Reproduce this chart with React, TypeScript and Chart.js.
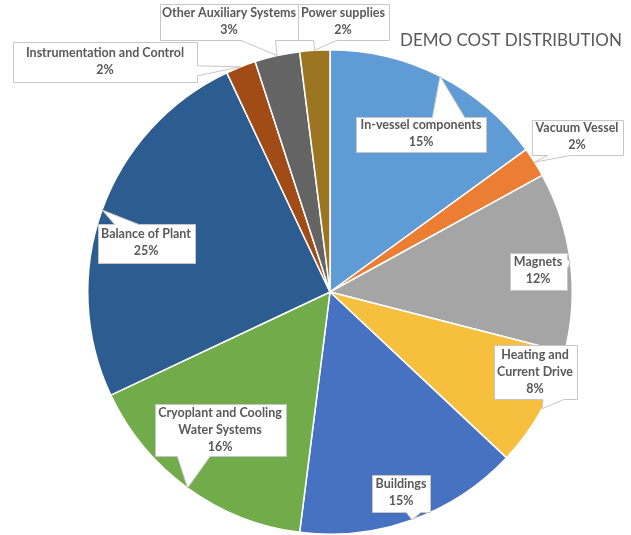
import React, { useEffect, useRef } from "react";
import { Chart, registerables } from "chart.js";

Chart.register(...registerables);

// ---- data ----
const categories: string[][] = [
  ["In-vessel components"],
  ["Vacuum Vessel"],
  ["Magnets"],
  ["Heating and", "Current Drive"],
  ["Buildings"],
  ["Cryoplant and Cooling", "Water Systems"],
  ["Balance of Plant"],
  ["Instrumentation and Control"],
  ["Other Auxiliary Systems"],
  ["Power supplies"],
];
const shares: number[] = [15, 2, 12, 8, 15, 16, 25, 2, 3, 2];
const sliceColors: string[] = [
  "#5F9BD5",
  "#EC7E34",
  "#A5A5A5",
  "#F7BF3E",
  "#4772C2",
  "#71AB4A",
  "#2C5C90",
  "#A14C17",
  "#646464",
  "#9C7522",
];
const titleText = "DEMO COST DISTRIBUTION";

// ---- callout layout: box centre offset from pie centre, box size (px) ----
const calloutLayout = [
  { dx: 91, dy: -158, w: 130, h: 35 },
  { dx: 247, dy: -155, w: 91, h: 35 },
  { dx: 208, dy: -21, w: 57, h: 37 },
  { dx: 205, dy: 80, w: 83, h: 54 },
  { dx: 71, dy: 201, w: 58, h: 37 },
  { dx: -110, dy: 138, w: 131, h: 52 },
  { dx: -184, dy: -49, w: 97, h: 39 },
  { dx: -225, dy: -230, w: 184, h: 40 },
  { dx: -101, dy: -270, w: 138, h: 36 },
  { dx: 13, dy: -270, w: 91, h: 36 },
];

const LABEL_FONT = "bold 12.5px Lato, 'Open Sans', sans-serif";
const TEXT_COLOR = "#595959";

const calloutPlugin = {
  id: "callouts",
  afterDatasetsDraw(chart: any) {
    const ctx: CanvasRenderingContext2D = chart.ctx;
    const meta = chart.getDatasetMeta(0);
    const values = chart.data.datasets[0].data as number[];
    ctx.save();
    meta.data.forEach((el: any, i: number) => {
      const p = el.getProps(["x", "y", "startAngle", "endAngle", "outerRadius"], true);
      const mid = (p.startAngle + p.endAngle) / 2;
      const tx = p.x + Math.cos(mid) * p.outerRadius;
      const ty = p.y + Math.sin(mid) * p.outerRadius;
      const L = calloutLayout[i];
      const cx = p.x + L.dx;
      const cy = p.y + L.dy;
      const l = Math.round(cx - L.w / 2) + 0.5;
      const t = Math.round(cy - L.h / 2) + 0.5;
      const w = Math.round(L.w);
      const h = Math.round(L.h);
      const r = l + w;
      const b = t + h;
      const dxPos = tx - (l + w / 2);
      const dyPos = ty - (t + h / 2);
      const dq = (dxPos * h) / w;
      const vertical = Math.abs(dyPos) > Math.abs(dq);
      const x1 = l + (w * (dxPos > 0 ? 7 : 2)) / 12;
      const x2 = l + (w * (dxPos > 0 ? 10 : 5)) / 12;
      const y1 = t + (h * (dyPos > 0 ? 7 : 2)) / 12;
      const y2 = t + (h * (dyPos > 0 ? 10 : 5)) / 12;
      ctx.beginPath();
      ctx.moveTo(l, t);
      if (vertical && dyPos < 0) {
        ctx.lineTo(x1, t);
        ctx.lineTo(tx, ty);
        ctx.lineTo(x2, t);
      }
      ctx.lineTo(r, t);
      if (!vertical && dxPos > 0) {
        ctx.lineTo(r, y1);
        ctx.lineTo(tx, ty);
        ctx.lineTo(r, y2);
      }
      ctx.lineTo(r, b);
      if (vertical && dyPos >= 0) {
        ctx.lineTo(x2, b);
        ctx.lineTo(tx, ty);
        ctx.lineTo(x1, b);
      }
      ctx.lineTo(l, b);
      if (!vertical && dxPos <= 0) {
        ctx.lineTo(l, y2);
        ctx.lineTo(tx, ty);
        ctx.lineTo(l, y1);
      }
      ctx.closePath();
      ctx.fillStyle = "#ffffff";
      ctx.fill();
      ctx.strokeStyle = "#C6C6C6";
      ctx.lineWidth = 1;
      ctx.stroke();

      const lines = [...categories[i], values[i] + "%"];
      const lineH = 17;
      ctx.font = LABEL_FONT;
      ctx.fillStyle = TEXT_COLOR;
      ctx.textAlign = "center";
      ctx.textBaseline = "middle";
      const startY = p.y + L.dy - ((lines.length - 1) * lineH) / 2 - 0.5;
      lines.forEach((ln, k) => {
        ctx.fillText(ln, p.x + L.dx, startY + k * lineH);
      });
    });

    // title
    ctx.font = "20px Lato, 'Open Sans', sans-serif";
    const mw = ctx.measureText(titleText).width;
    const size = (20 * 222) / mw;
    ctx.font = `${size.toFixed(2)}px Lato, 'Open Sans', sans-serif`;
    ctx.fillStyle = TEXT_COLOR;
    ctx.textAlign = "center";
    ctx.textBaseline = "alphabetic";
    ctx.fillText(titleText, 511, 46);
    ctx.restore();
  },
};

export default function App() {
  const ref = useRef<HTMLCanvasElement>(null);
  useEffect(() => {
    if (!ref.current) return;
    const chart = new Chart(ref.current, {
      type: "pie",
      data: {
        labels: categories,
        datasets: [
          {
            data: shares,
            backgroundColor: sliceColors,
            borderColor: "#ffffff",
            borderWidth: 1.5,
            hoverOffset: 0,
          },
        ],
      },
      options: {
        responsive: false,
        animation: false,
        events: [],
        layout: { padding: { left: 87, right: 58, top: 49, bottom: 0 } },
        plugins: {
          legend: { display: false },
          tooltip: { enabled: false },
          title: { display: false },
        },
      },
      plugins: [calloutPlugin],
    } as any);
    return () => chart.destroy();
  }, []);
  return (
    <div style={{ position: "fixed", left: 0, top: 0, width: 631, height: 535, background: "#ffffff" }}>
      <canvas ref={ref} width={631} height={535} style={{ display: "block" }} />
    </div>
  );
}
